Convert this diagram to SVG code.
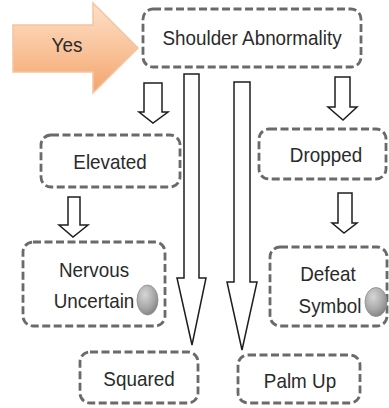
<svg xmlns="http://www.w3.org/2000/svg" width="389" height="408" viewBox="0 0 389 408">
  <defs>
    <linearGradient id="orangeFill" x1="0" y1="0" x2="0" y2="1">
      <stop offset="0" stop-color="#fde0c8"/>
      <stop offset="0.5" stop-color="#f9c49c"/>
      <stop offset="1" stop-color="#f3a46c"/>
    </linearGradient>
    <radialGradient id="ballFill" cx="0.38" cy="0.32" r="0.75">
      <stop offset="0" stop-color="#d6d6d6"/>
      <stop offset="0.6" stop-color="#a8a8a8"/>
      <stop offset="1" stop-color="#7e7e7e"/>
    </radialGradient>
  </defs>
  <style>
    .box { fill: #ffffff; stroke: #6a6a6a; stroke-width: 2.8; stroke-dasharray: 8 3.5; }
    .label { font-family: "Liberation Sans", Arial, sans-serif; font-size: 20.5px; fill: #2a2a2a; text-anchor: middle; }
    .hollow { fill: #ffffff; stroke: #1e1e1e; stroke-width: 1.5; stroke-linejoin: miter; }
    .ball { fill: url(#ballFill); stroke: #8c8c8c; stroke-width: 0.8; }
  </style>
  <rect width="389" height="408" fill="#ffffff"/>

  <!-- connectors: block arrows -->
  <g id="connectors">
    <polygon id="yes-arrow" points="13,25 93,25 93,3 138,48 93,93 93,72 13,72" fill="url(#orangeFill)" stroke="#f6c3a0" stroke-width="1.5"/>
    <polygon class="hollow" points="144,83 162,83 162,112 168,112 153,123 139,112 144,112"/>
    <polygon class="hollow" points="68,197 80,197 80,225 88,225 73,237 59,225 68,225"/>
    <polygon class="hollow" points="335,77 350,77 350,107 357,107 343,120 328,107 335,107"/>
    <polygon class="hollow" points="338,193 352,193 352,223 357,223 344,233 332,223 338,223"/>
    <polygon class="hollow" points="184,74 199,74 199,278 206,278 192,345 177,278 184,278"/>
    <polygon class="hollow" points="234,82 250,82 250,282 257,282 242,350 227,282 234,282"/>
  </g>

  <g id="yes">
    <text class="label" transform="translate(67 52) scale(0.92 1)">Yes</text>
  </g>

  <g id="shoulder-abnormality">
    <rect class="box" x="143" y="9" width="218" height="58" rx="10"/>
    <text class="label" transform="translate(252 45) scale(0.92 1)">Shoulder Abnormality</text>
  </g>

  <g id="elevated">
    <rect class="box" x="41" y="135" width="139" height="52" rx="10"/>
    <text class="label" transform="translate(110 169) scale(0.92 1)">Elevated</text>
  </g>

  <g id="dropped">
    <rect class="box" x="259" y="129" width="127" height="50" rx="10"/>
    <text class="label" transform="translate(326 162) scale(0.92 1)">Dropped</text>
  </g>

  <g id="nervous-uncertain">
    <rect class="box" x="23" y="242" width="142" height="84" rx="10"/>
    <text class="label" transform="translate(94 277) scale(0.92 1)">Nervous</text>
    <text class="label" transform="translate(94 308) scale(0.92 1)">Uncertain</text>
    <ellipse class="ball" cx="147.5" cy="300" rx="10.5" ry="15"/>
  </g>

  <g id="defeat-symbol">
    <rect class="box" x="270" y="247" width="117" height="79" rx="10"/>
    <text class="label" transform="translate(328 281) scale(0.92 1)">Defeat</text>
    <text class="label" transform="translate(330 313) scale(0.92 1)">Symbol</text>
    <ellipse class="ball" cx="376" cy="302" rx="11" ry="14.5"/>
  </g>

  <g id="squared">
    <rect class="box" x="80" y="352" width="118" height="51" rx="10"/>
    <text class="label" transform="translate(139 386) scale(0.92 1)">Squared</text>
  </g>

  <g id="palm-up">
    <rect class="box" x="238" y="355" width="122" height="48" rx="10"/>
    <text class="label" transform="translate(300 388) scale(0.92 1)">Palm Up</text>
  </g>
</svg>
